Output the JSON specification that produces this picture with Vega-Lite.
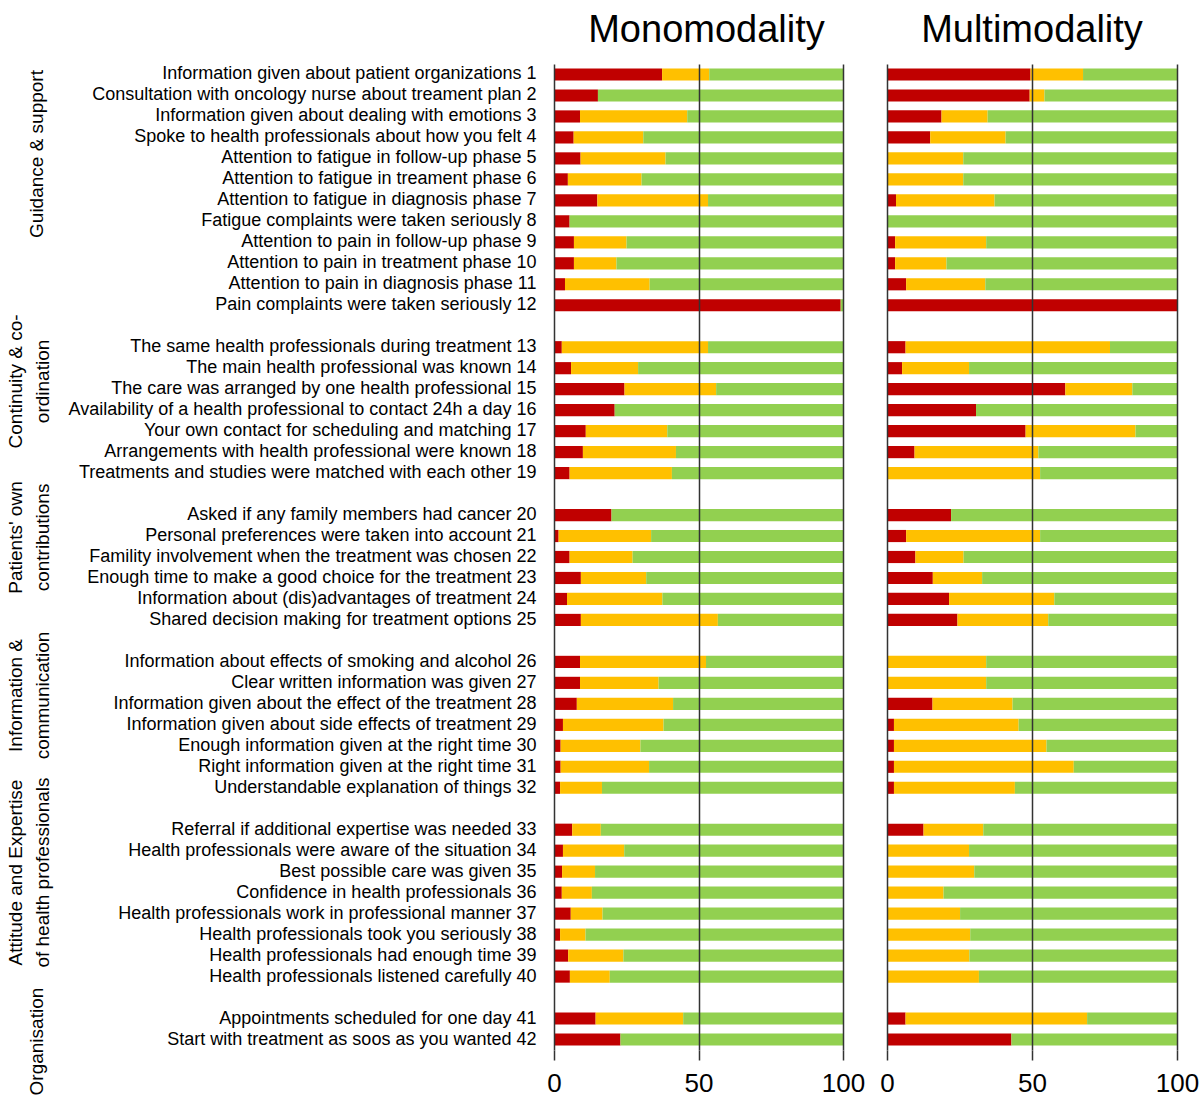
{
  "$schema": "https://vega.github.io/schema/vega-lite/v6.json",
  "padding": {"top": 12, "left": 0, "right": 0, "bottom": 0},
  "config": {"font": "Liberation Sans", "view": {"stroke": null}},
  "spacing": 14,
  "resolve": {"scale": {"y": "independent", "x": "independent"}},
  "datasets": {
    "groups": [
      {"g": "Guidance & support", "row": 4.29},
      {"g": "Continuity & co-\nordination", "row": 15.13},
      {"g": "Patients' own\ncontributions", "row": 22.57},
      {"g": "Information &\ncommunication", "row": 30.1},
      {"g": "Attitude and Expertise\nof health professionals", "row": 38.54},
      {"g": "Organisation", "row": 46.6}
    ],
    "bars": [
      {"q": "Information given about patient organizations 1", "p": "Mono", "neg": 37.4, "neu": 16.3, "pos": 46.3},
      {"q": "Consultation with oncology nurse about treament plan 2", "p": "Mono", "neg": 15.2, "neu": 0, "pos": 84.8},
      {"q": "Information given about dealing with emotions 3", "p": "Mono", "neg": 9.0, "neu": 37.1, "pos": 53.9},
      {"q": "Spoke to health professionals about how you felt 4", "p": "Mono", "neg": 6.8, "neu": 24.1, "pos": 69.1},
      {"q": "Attention to fatigue in follow-up phase 5", "p": "Mono", "neg": 9.2, "neu": 29.4, "pos": 61.4},
      {"q": "Attention to fatigue in treament phase 6", "p": "Mono", "neg": 4.8, "neu": 25.5, "pos": 69.7},
      {"q": "Attention to fatigue in diagnosis phase 7", "p": "Mono", "neg": 15.0, "neu": 38.3, "pos": 46.7},
      {"q": "Fatigue complaints were taken seriously 8", "p": "Mono", "neg": 5.4, "neu": 0, "pos": 94.6},
      {"q": "Attention to pain in follow-up phase 9", "p": "Mono", "neg": 6.9, "neu": 18.2, "pos": 74.9},
      {"q": "Attention to pain in treatment phase 10", "p": "Mono", "neg": 6.9, "neu": 14.7, "pos": 78.4},
      {"q": "Attention to pain in diagnosis phase 11", "p": "Mono", "neg": 3.8, "neu": 29.3, "pos": 66.9},
      {"q": "Pain complaints were taken seriously 12", "p": "Mono", "neg": 99.2, "neu": 0, "pos": 0.8},
      {"q": "The same health professionals during treatment 13", "p": "Mono", "neg": 2.7, "neu": 50.6, "pos": 46.7},
      {"q": "The main health professional was known 14", "p": "Mono", "neg": 5.9, "neu": 23.2, "pos": 70.9},
      {"q": "The care was arranged by one health professional 15", "p": "Mono", "neg": 24.4, "neu": 31.7, "pos": 43.9},
      {"q": "Availability of a health professional to contact 24h a day 16", "p": "Mono", "neg": 21.0, "neu": 0, "pos": 79.0},
      {"q": "Your own contact for scheduling and matching 17", "p": "Mono", "neg": 11.0, "neu": 28.2, "pos": 60.8},
      {"q": "Arrangements with health professional were known 18", "p": "Mono", "neg": 10.0, "neu": 32.2, "pos": 57.8},
      {"q": "Treatments and studies were matched with each other 19", "p": "Mono", "neg": 5.4, "neu": 35.4, "pos": 59.2},
      {"q": "Asked if any family members had cancer 20", "p": "Mono", "neg": 19.9, "neu": 0, "pos": 80.1},
      {"q": "Personal preferences were taken into account 21", "p": "Mono", "neg": 1.6, "neu": 32.0, "pos": 66.4},
      {"q": "Famility involvement when the treatment was chosen 22", "p": "Mono", "neg": 5.4, "neu": 21.8, "pos": 72.8},
      {"q": "Enough time to make a good choice for the treatment 23", "p": "Mono", "neg": 9.3, "neu": 22.6, "pos": 68.1},
      {"q": "Information about (dis)advantages of treatment 24", "p": "Mono", "neg": 4.5, "neu": 33.0, "pos": 62.5},
      {"q": "Shared decision making for treatment options 25", "p": "Mono", "neg": 9.3, "neu": 47.4, "pos": 43.3},
      {"q": "Information about effects of smoking and alcohol 26", "p": "Mono", "neg": 9.0, "neu": 43.6, "pos": 47.4},
      {"q": "Clear written information was given 27", "p": "Mono", "neg": 9.0, "neu": 27.2, "pos": 63.8},
      {"q": "Information given about the effect of the treatment 28", "p": "Mono", "neg": 7.9, "neu": 33.3, "pos": 58.8},
      {"q": "Information given about side effects of treatment 29", "p": "Mono", "neg": 3.1, "neu": 34.8, "pos": 62.1},
      {"q": "Enough information given at the right time 30", "p": "Mono", "neg": 2.3, "neu": 27.6, "pos": 70.1},
      {"q": "Right information given at the right time 31", "p": "Mono", "neg": 2.3, "neu": 30.6, "pos": 67.1},
      {"q": "Understandable explanation of things 32", "p": "Mono", "neg": 2.1, "neu": 14.5, "pos": 83.4},
      {"q": "Referral if additional expertise was needed 33", "p": "Mono", "neg": 6.3, "neu": 9.9, "pos": 83.8},
      {"q": "Health professionals were aware of the situation 34", "p": "Mono", "neg": 3.1, "neu": 21.2, "pos": 75.7},
      {"q": "Best possible care was given 35", "p": "Mono", "neg": 2.8, "neu": 11.4, "pos": 85.8},
      {"q": "Confidence in health professionals 36", "p": "Mono", "neg": 2.7, "neu": 10.4, "pos": 86.9},
      {"q": "Health professionals work in professional manner 37", "p": "Mono", "neg": 5.8, "neu": 11.0, "pos": 83.2},
      {"q": "Health professionals took you seriously 38", "p": "Mono", "neg": 2.1, "neu": 8.8, "pos": 89.1},
      {"q": "Health professionals had enough time 39", "p": "Mono", "neg": 4.9, "neu": 19.1, "pos": 76.0},
      {"q": "Health professionals listened carefully 40", "p": "Mono", "neg": 5.5, "neu": 13.8, "pos": 80.7},
      {"q": "Appointments scheduled for one day 41", "p": "Mono", "neg": 14.4, "neu": 30.3, "pos": 55.3},
      {"q": "Start with treatment as soos as you wanted 42", "p": "Mono", "neg": 23.0, "neu": 0, "pos": 77.0},
      {"q": "Information given about patient organizations 1", "p": "Multi", "neg": 49.5, "neu": 18.1, "pos": 32.4},
      {"q": "Consultation with oncology nurse about treament plan 2", "p": "Multi", "neg": 49.2, "neu": 5.1, "pos": 45.7},
      {"q": "Information given about dealing with emotions 3", "p": "Multi", "neg": 18.8, "neu": 15.9, "pos": 65.3},
      {"q": "Spoke to health professionals about how you felt 4", "p": "Multi", "neg": 14.9, "neu": 26.0, "pos": 59.1},
      {"q": "Attention to fatigue in follow-up phase 5", "p": "Multi", "neg": 0, "neu": 26.3, "pos": 73.7},
      {"q": "Attention to fatigue in treament phase 6", "p": "Multi", "neg": 0, "neu": 26.3, "pos": 73.7},
      {"q": "Attention to fatigue in diagnosis phase 7", "p": "Multi", "neg": 3.1, "neu": 34.0, "pos": 62.9},
      {"q": "Fatigue complaints were taken seriously 8", "p": "Multi", "neg": 0, "neu": 0, "pos": 100},
      {"q": "Attention to pain in follow-up phase 9", "p": "Multi", "neg": 2.8, "neu": 31.4, "pos": 65.8},
      {"q": "Attention to pain in treatment phase 10", "p": "Multi", "neg": 2.8, "neu": 17.7, "pos": 79.5},
      {"q": "Attention to pain in diagnosis phase 11", "p": "Multi", "neg": 6.6, "neu": 27.3, "pos": 66.1},
      {"q": "Pain complaints were taken seriously 12", "p": "Multi", "neg": 100, "neu": 0, "pos": 0},
      {"q": "The same health professionals during treatment 13", "p": "Multi", "neg": 6.4, "neu": 70.5, "pos": 23.1},
      {"q": "The main health professional was known 14", "p": "Multi", "neg": 5.2, "neu": 23.1, "pos": 71.7},
      {"q": "The care was arranged by one health professional 15", "p": "Multi", "neg": 61.5, "neu": 23.1, "pos": 15.4},
      {"q": "Availability of a health professional to contact 24h a day 16", "p": "Multi", "neg": 30.7, "neu": 0, "pos": 69.3},
      {"q": "Your own contact for scheduling and matching 17", "p": "Multi", "neg": 47.8, "neu": 37.9, "pos": 14.3},
      {"q": "Arrangements with health professional were known 18", "p": "Multi", "neg": 9.5, "neu": 42.7, "pos": 47.8},
      {"q": "Treatments and studies were matched with each other 19", "p": "Multi", "neg": 0, "neu": 52.8, "pos": 47.2},
      {"q": "Asked if any family members had cancer 20", "p": "Multi", "neg": 22.1, "neu": 0, "pos": 77.9},
      {"q": "Personal preferences were taken into account 21", "p": "Multi", "neg": 6.6, "neu": 46.2, "pos": 47.2},
      {"q": "Famility involvement when the treatment was chosen 22", "p": "Multi", "neg": 9.8, "neu": 16.6, "pos": 73.6},
      {"q": "Enough time to make a good choice for the treatment 23", "p": "Multi", "neg": 15.8, "neu": 17.0, "pos": 67.2},
      {"q": "Information about (dis)advantages of treatment 24", "p": "Multi", "neg": 21.4, "neu": 36.3, "pos": 42.3},
      {"q": "Shared decision making for treatment options 25", "p": "Multi", "neg": 24.3, "neu": 31.3, "pos": 44.4},
      {"q": "Information about effects of smoking and alcohol 26", "p": "Multi", "neg": 0, "neu": 34.2, "pos": 65.8},
      {"q": "Clear written information was given 27", "p": "Multi", "neg": 0, "neu": 34.2, "pos": 65.8},
      {"q": "Information given about the effect of the treatment 28", "p": "Multi", "neg": 15.7, "neu": 27.6, "pos": 56.7},
      {"q": "Information given about side effects of treatment 29", "p": "Multi", "neg": 2.4, "neu": 43.0, "pos": 54.6},
      {"q": "Enough information given at the right time 30", "p": "Multi", "neg": 2.4, "neu": 52.6, "pos": 45.0},
      {"q": "Right information given at the right time 31", "p": "Multi", "neg": 2.4, "neu": 62.0, "pos": 35.6},
      {"q": "Understandable explanation of things 32", "p": "Multi", "neg": 2.4, "neu": 41.7, "pos": 55.9},
      {"q": "Referral if additional expertise was needed 33", "p": "Multi", "neg": 12.6, "neu": 20.6, "pos": 66.8},
      {"q": "Health professionals were aware of the situation 34", "p": "Multi", "neg": 0, "neu": 28.3, "pos": 71.7},
      {"q": "Best possible care was given 35", "p": "Multi", "neg": 0, "neu": 30.1, "pos": 69.9},
      {"q": "Confidence in health professionals 36", "p": "Multi", "neg": 0, "neu": 19.5, "pos": 80.5},
      {"q": "Health professionals work in professional manner 37", "p": "Multi", "neg": 0, "neu": 25.2, "pos": 74.8},
      {"q": "Health professionals took you seriously 38", "p": "Multi", "neg": 0, "neu": 28.7, "pos": 71.3},
      {"q": "Health professionals had enough time 39", "p": "Multi", "neg": 0, "neu": 28.4, "pos": 71.6},
      {"q": "Health professionals listened carefully 40", "p": "Multi", "neg": 0, "neu": 31.7, "pos": 68.3},
      {"q": "Appointments scheduled for one day 41", "p": "Multi", "neg": 6.4, "neu": 62.6, "pos": 31.0},
      {"q": "Start with treatment as soos as you wanted 42", "p": "Multi", "neg": 42.9, "neu": 0, "pos": 57.1}
    ]
  },
  "hconcat": [
    {
      "width": 54,
      "height": 986,
      "title": {"text": " ", "fontSize": 38, "offset": 14},
      "data": {"name": "groups"},
      "encoding": {
        "y": {"field": "row", "type": "quantitative", "scale": {"domain": [0, 47], "reverse": true, "nice": false, "zero": false}, "axis": null},
        "text": {"field": "g"}
      },
      "layer": [
        {
          "transform": [{"filter": "indexof(datum.g, '\\n') >= 0"}],
          "mark": {"type": "text", "angle": 270, "fontSize": 19, "lineBreak": "\n", "lineHeight": 27, "baseline": "middle", "align": "center", "dy": -11, "color": "#000"}
        },
        {
          "transform": [{"filter": "indexof(datum.g, '\\n') < 0"}],
          "mark": {"type": "text", "angle": 270, "fontSize": 19, "baseline": "middle", "align": "center", "dy": 10, "color": "#000"}
        }
      ]
    },
    {
      "width": 289,
      "height": 986,
      "title": {"text": "Monomodality", "fontSize": 38, "fontWeight": "normal", "offset": 14, "color": "#000", "dx": 8},
      "data": {"name": "bars"},
      "transform": [{"filter": "datum.p == 'Mono'"}, {"fold": ["neg", "neu", "pos"], "as": ["k", "v"]}],
      "mark": {"type": "bar"},
      "encoding": {
        "y": {
          "field": "q", "type": "nominal", "sort": null,
          "scale": {"domain": ["Information given about patient organizations 1", "Consultation with oncology nurse about treament plan 2", "Information given about dealing with emotions 3", "Spoke to health professionals about how you felt 4", "Attention to fatigue in follow-up phase 5", "Attention to fatigue in treament phase 6", "Attention to fatigue in diagnosis phase 7", "Fatigue complaints were taken seriously 8", "Attention to pain in follow-up phase 9", "Attention to pain in treatment phase 10", "Attention to pain in diagnosis phase 11", "Pain complaints were taken seriously 12", " ", "The same health professionals during treatment 13", "The main health professional was known 14", "The care was arranged by one health professional 15", "Availability of a health professional to contact 24h a day 16", "Your own contact for scheduling and matching 17", "Arrangements with health professional were known 18", "Treatments and studies were matched with each other 19", "  ", "Asked if any family members had cancer 20", "Personal preferences were taken into account 21", "Famility involvement when the treatment was chosen 22", "Enough time to make a good choice for the treatment 23", "Information about (dis)advantages of treatment 24", "Shared decision making for treatment options 25", "   ", "Information about effects of smoking and alcohol 26", "Clear written information was given 27", "Information given about the effect of the treatment 28", "Information given about side effects of treatment 29", "Enough information given at the right time 30", "Right information given at the right time 31", "Understandable explanation of things 32", "    ", "Referral if additional expertise was needed 33", "Health professionals were aware of the situation 34", "Best possible care was given 35", "Confidence in health professionals 36", "Health professionals work in professional manner 37", "Health professionals took you seriously 38", "Health professionals had enough time 39", "Health professionals listened carefully 40", "     ", "Appointments scheduled for one day 41", "Start with treatment as soos as you wanted 42"], "paddingInner": 0.42, "paddingOuter": 0.21},
          "axis": {"title": null, "ticks": false, "domain": false, "labelFontSize": 18, "labelPadding": 18, "labelLimit": 700, "labelColor": "#000"}
        },
        "x": {
          "field": "v", "type": "quantitative", "stack": "zero",
          "scale": {"domain": [0, 100], "nice": false},
          "axis": {"values": [0, 50, 100], "title": null, "domain": false, "grid": true, "gridColor": "#333", "gridWidth": 1.5, "gridOpacity": 1, "tickColor": "#333", "tickWidth": 1.5, "tickSize": 10, "labelFontSize": 26, "labelPadding": 10, "labelColor": "#000", "labelFlush": false, "zindex": 1}
        },
        "color": {"field": "k", "type": "nominal", "scale": {"domain": ["neg", "neu", "pos"], "range": ["#C00000", "#FFC000", "#92D050"]}, "legend": null},
        "order": {"field": "k", "type": "ordinal", "sort": "ascending"}
      }
    },
    {
      "width": 290,
      "height": 986,
      "title": {"text": "Multimodality", "fontSize": 38, "fontWeight": "normal", "offset": 14, "color": "#000"},
      "data": {"name": "bars"},
      "transform": [{"filter": "datum.p == 'Multi'"}, {"fold": ["neg", "neu", "pos"], "as": ["k", "v"]}],
      "mark": {"type": "bar"},
      "encoding": {
        "y": {
          "field": "q", "type": "nominal", "sort": null,
          "scale": {"domain": ["Information given about patient organizations 1", "Consultation with oncology nurse about treament plan 2", "Information given about dealing with emotions 3", "Spoke to health professionals about how you felt 4", "Attention to fatigue in follow-up phase 5", "Attention to fatigue in treament phase 6", "Attention to fatigue in diagnosis phase 7", "Fatigue complaints were taken seriously 8", "Attention to pain in follow-up phase 9", "Attention to pain in treatment phase 10", "Attention to pain in diagnosis phase 11", "Pain complaints were taken seriously 12", " ", "The same health professionals during treatment 13", "The main health professional was known 14", "The care was arranged by one health professional 15", "Availability of a health professional to contact 24h a day 16", "Your own contact for scheduling and matching 17", "Arrangements with health professional were known 18", "Treatments and studies were matched with each other 19", "  ", "Asked if any family members had cancer 20", "Personal preferences were taken into account 21", "Famility involvement when the treatment was chosen 22", "Enough time to make a good choice for the treatment 23", "Information about (dis)advantages of treatment 24", "Shared decision making for treatment options 25", "   ", "Information about effects of smoking and alcohol 26", "Clear written information was given 27", "Information given about the effect of the treatment 28", "Information given about side effects of treatment 29", "Enough information given at the right time 30", "Right information given at the right time 31", "Understandable explanation of things 32", "    ", "Referral if additional expertise was needed 33", "Health professionals were aware of the situation 34", "Best possible care was given 35", "Confidence in health professionals 36", "Health professionals work in professional manner 37", "Health professionals took you seriously 38", "Health professionals had enough time 39", "Health professionals listened carefully 40", "     ", "Appointments scheduled for one day 41", "Start with treatment as soos as you wanted 42"], "paddingInner": 0.42, "paddingOuter": 0.21},
          "axis": null
        },
        "x": {
          "field": "v", "type": "quantitative", "stack": "zero",
          "scale": {"domain": [0, 100], "nice": false},
          "axis": {"values": [0, 50, 100], "title": null, "domain": false, "grid": true, "gridColor": "#333", "gridWidth": 1.5, "gridOpacity": 1, "tickColor": "#333", "tickWidth": 1.5, "tickSize": 10, "labelFontSize": 26, "labelPadding": 10, "labelColor": "#000", "labelFlush": false, "zindex": 1}
        },
        "color": {"field": "k", "type": "nominal", "scale": {"domain": ["neg", "neu", "pos"], "range": ["#C00000", "#FFC000", "#92D050"]}, "legend": null},
        "order": {"field": "k", "type": "ordinal", "sort": "ascending"}
      }
    }
  ]
}
